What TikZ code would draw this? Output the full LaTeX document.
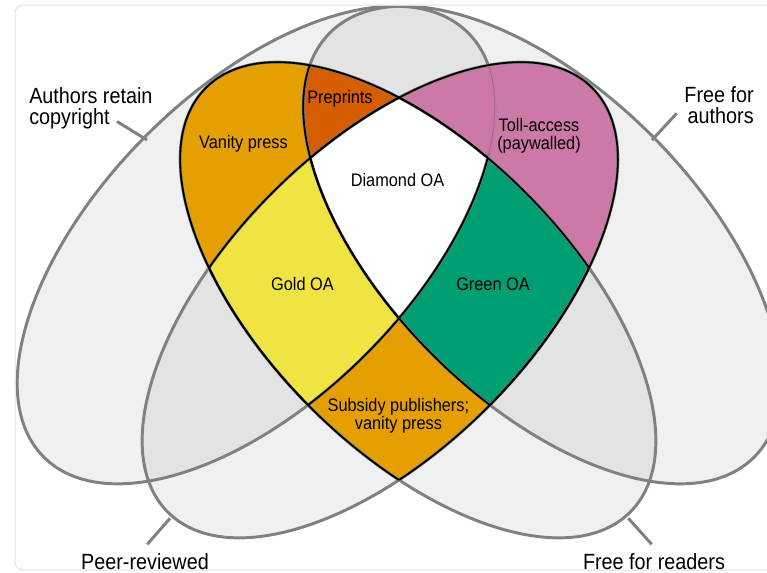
\documentclass[tikz,border=0pt]{standalone}
\usepackage{fontspec}
\setmainfont{Liberation Sans}[FakeStretch=0.9]
\definecolor{ringgray}{HTML}{808080}
\definecolor{lightfill}{HTML}{F0F0F0}
\definecolor{darkfill}{HTML}{E3E3E3}
\definecolor{cardgray}{HTML}{E2E2E2}
\definecolor{vanityc}{HTML}{E69F00}
\definecolor{preprintc}{HTML}{D55E00}
\definecolor{tollc}{HTML}{CC79A7}
\definecolor{goldc}{HTML}{F0E442}
\definecolor{greenc}{HTML}{009E73}
\definecolor{faintc}{HTML}{A9688C}
\newcommand\outerfont{\fontsize{16.5pt}{15.5pt}\selectfont}
\newcommand\innerfont{\fontsize{13.6pt}{13.2pt}\selectfont}
\def\EA{(256,245) ellipse [x radius=300, y radius=155]}
\def\EB{(542,245) ellipse [x radius=300, y radius=155]}
\def\EC{(380,300) ellipse [x radius=300, y radius=152]}
\def\ED{(418,300) ellipse [x radius=300, y radius=152]}
\begin{document}
\begin{tikzpicture}[x=0.75pt,y=-0.75pt,
  elA/.style={rotate around={45:(256,245)}},
  elB/.style={rotate around={-45:(542,245)}},
  elC/.style={rotate around={45:(380,300)}},
  elD/.style={rotate around={-45:(418,300)}},
  ring/.style={draw=ringgray, line width=2.2pt},
  edgeline/.style={draw=black, line width=1.35pt},
  pointer/.style={draw=ringgray, line width=2.2pt},
  lbl/.style={inner sep=0pt, font=\outerfont, text=black},
  inlbl/.style={inner sep=0pt, font=\innerfont, align=center, text=black}]
\useasboundingbox (0,0) rectangle (767,572);
\fill[white] (0,0) rectangle (767,572);
\fill[white, rounded corners=6pt] (15,5) rectangle (800,570);
\begin{scope}
  \clip[rounded corners=6pt] (15.5,5.5) rectangle (800,569.5);
  % single-set fills
  \fill[lightfill, elA] \EA;
  \fill[lightfill, elB] \EB;
  \fill[lightfill, elC] \EC;
  \fill[lightfill, elD] \ED;
  % pairwise overlaps
  \begin{scope}
    \clip[elA] \EA;
    \fill[darkfill, elB] \EB;
    \fill[darkfill, elC] \EC;
  \end{scope}
  \begin{scope}
    \clip[elB] \EB;
    \fill[darkfill, elD] \ED;
  \end{scope}
  % coloured regions
  \begin{scope}
    \clip[elD] \ED;
    \fill[vanityc, elA] \EA;
    \clip[elA] \EA;
    \fill[preprintc, elB] \EB;
  \end{scope}
  \begin{scope}
    \clip[elC] \EC;
    \fill[tollc, elB] \EB;
  \end{scope}
  \begin{scope}
    \clip[elC] \EC;
    \clip[elD] \ED;
    \fill[vanityc] (0,0) rectangle (767,572);
    \fill[goldc, elA] \EA;
    \fill[greenc, elB] \EB;
    \clip[elA] \EA;
    \fill[white, elB] \EB;
  \end{scope}
  % grey outlines
  \draw[ring, elA] \EA;
  \draw[ring, elB] \EB;
  \draw[ring, elC] \EC;
  \draw[ring, elD] \ED;
  % faint line inside toll-access
  \begin{scope}
    \clip[elC] \EC;
    \clip[elB] \EB;
    \clip (0,0) rectangle (767,152);
    \draw[draw=tollc, line width=2.6pt, elA] \EA;
    \draw[draw=faintc, line width=0.8pt, elA] \EA;
  \end{scope}
  % black borders of the coloured regions
  \begin{scope}\clip[elA] \EA; \draw[edgeline, elD] \ED; \end{scope}
  \begin{scope}\clip[elC] \EC; \draw[edgeline, elD] \ED; \end{scope}
  \begin{scope}\clip[elB] \EB; \draw[edgeline, elC] \EC; \end{scope}
  \begin{scope}\clip[elD] \ED; \draw[edgeline, elC] \EC; \end{scope}
  \begin{scope}\clip[elC] \EC; \clip[elD] \ED; \draw[edgeline, elA] \EA; \end{scope}
  \begin{scope}\clip[elD] \ED; \clip[elC] \EC; \draw[edgeline, elB] \EB; \end{scope}
  \begin{scope}\clip[elD] \ED; \clip[elA] \EA; \draw[edgeline, elB] \EB; \end{scope}
\end{scope}
\draw[cardgray, line width=0.75pt, rounded corners=6pt] (15,5) rectangle (800,570);
% outer labels
\node[lbl, align=left, anchor=north west] (lblA) at (29,87.3) {Authors retain\\copyright};
\node[lbl, align=right, anchor=north east] (lblB) at (754,86.7) {Free for\\authors};
\node[lbl, anchor=base] (lblC) at (145,569.3) {Peer-reviewed};
\node[lbl, anchor=base] (lblD) at (654,569.3) {Free for readers};
% pointers
\coordinate (pA1) at (117,121.5); \coordinate (pA2) at (147,140);
\coordinate (pB1) at (676.7,113.3); \coordinate (pB2) at (652,140);
\coordinate (pC1) at (147.3,544.3); \coordinate (pC2) at (170,518.3);
\coordinate (pD1) at (651.7,544.3); \coordinate (pD2) at (628.3,518.3);
\draw[pointer] (pA1) -- (pA2);
\draw[pointer] (pB1) -- (pB2);
\draw[pointer] (pC1) -- (pC2);
\draw[pointer] (pD1) -- (pD2);
% inner labels
\node[inlbl, anchor=base] (preprints) at (340,103.3) {Preprints};
\node[inlbl, anchor=base] (vanity) at (243.5,148.3) {Vanity press};
\node[inlbl, anchor=north] (toll) at (539,118.3) {Toll-access\\(paywalled)};
\node[inlbl, anchor=base] (diamond) at (397.5,186.7) {Diamond OA};
\node[inlbl, anchor=base] (goldlbl) at (302.5,290) {Gold OA};
\node[inlbl, anchor=base] (greenlbl) at (493,290) {Green OA};
\node[inlbl, anchor=north] (subsidy) at (398.4,398.3) {Subsidy publishers;\\vanity press};
\end{tikzpicture}
\end{document}
